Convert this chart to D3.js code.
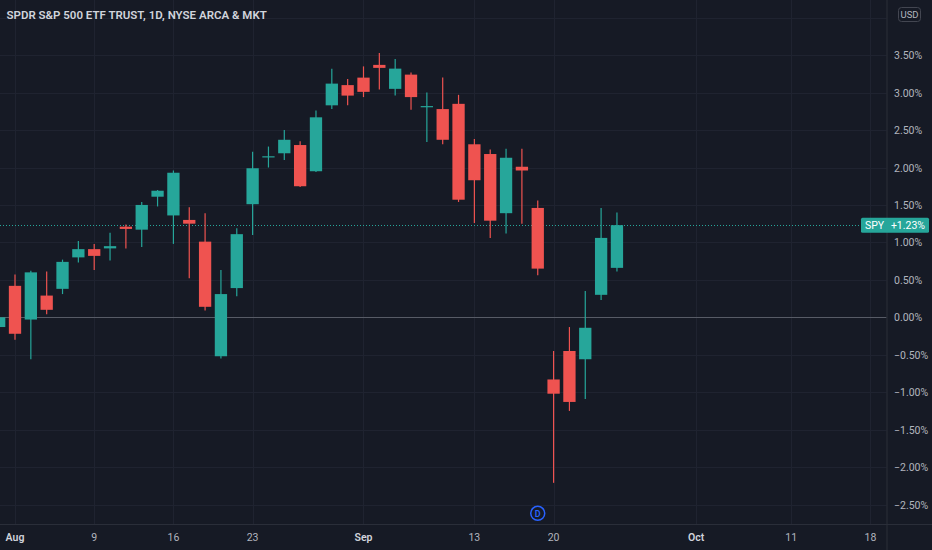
<!DOCTYPE html>
<html>
<head>
<meta charset="utf-8">
<script src="https://cdn.jsdelivr.net/npm/d3@7"></script>
<style>
  html, body { margin: 0; padding: 0; background: #161a25; }
  svg { display: block; font-family: Roboto, "Noto Sans", sans-serif; }
</style>
</head>
<body>
<svg class="chart" width="932" height="550"></svg>
<script>
"use strict";

// SPY daily bars, % change vs. first visible close
var dates = ['2021-07-30',
  '2021-08-02', '2021-08-03', '2021-08-04', '2021-08-05', '2021-08-06',
  '2021-08-09', '2021-08-10', '2021-08-11', '2021-08-12', '2021-08-13',
  '2021-08-16', '2021-08-17', '2021-08-18', '2021-08-19', '2021-08-20',
  '2021-08-23', '2021-08-24', '2021-08-25', '2021-08-26', '2021-08-27',
  '2021-08-30', '2021-08-31', '2021-09-01', '2021-09-02', '2021-09-03',
  '2021-09-07', '2021-09-08', '2021-09-09', '2021-09-10',
  '2021-09-13', '2021-09-14', '2021-09-15', '2021-09-16', '2021-09-17',
  '2021-09-20', '2021-09-21', '2021-09-22', '2021-09-23', '2021-09-24'];
var opens = [-0.13,
  0.42, -0.03, 0.29, 0.38, 0.80,
  0.91, 0.92, 1.21, 1.17, 1.61,
  1.36, 1.30, 1.01, -0.52, 0.39,
  1.51, 2.14, 2.19, 2.30, 1.95,
  2.83, 3.10, 3.20, 3.37, 3.05,
  3.24, 2.81, 2.78, 2.85,
  2.31, 2.18, 1.39, 2.01, 1.46,
  -0.83, -0.45, -0.56, 0.30, 0.66];
var highs = [0.02,
  0.57, 0.62, 0.61, 0.77, 1.02,
  0.98, 1.13, 1.24, 1.54, 1.70,
  1.96, 1.47, 1.39, 0.63, 1.19,
  2.21, 2.28, 2.50, 2.35, 2.76,
  3.32, 3.18, 3.35, 3.53, 3.45,
  3.27, 3.00, 3.20, 2.97,
  2.38, 2.24, 2.25, 2.25, 1.56,
  -0.45, -0.13, 0.35, 1.46, 1.40];
var lows = [-0.18,
  -0.30, -0.56, 0.04, 0.31, 0.73,
  0.63, 0.76, 0.92, 0.94, 1.48,
  0.98, 0.52, 0.09, -0.55, 0.28,
  1.10, 2.00, 2.10, 1.74, 1.94,
  2.78, 2.83, 2.94, 3.04, 2.96,
  2.77, 2.34, 2.31, 1.54,
  1.26, 1.06, 1.12, 1.25, 0.56,
  -2.21, -1.25, -1.09, 0.23, 0.61];
var closes = [0.00,
  -0.22, 0.60, 0.10, 0.74, 0.91,
  0.82, 0.95, 1.18, 1.50, 1.69,
  1.93, 1.25, 0.14, 0.31, 1.11,
  1.99, 2.15, 2.37, 1.75, 2.67,
  3.12, 2.96, 3.01, 3.33, 3.32,
  2.94, 2.82, 2.37, 1.57,
  1.83, 1.29, 2.13, 1.96, 0.65,
  -1.02, -1.13, -0.14, 1.06, 1.23];

// time axis: label and the bar slot it sits on (slots continue past the data)
var timeLabels = ['Aug', '9', '16', '23', 'Sep', '13', '20', 'Oct', '11', '18'];
var timeSlots = [1, 6, 11, 16, 23, 30, 35, 44, 50, 55];
var monthLabels = ['Aug', 'Sep', 'Oct'];

// 4.00% only gets a grid line, its label sits under the USD badge
var gridTicks = [4.0, 3.5, 3.0, 2.5, 2.0, 1.5, 1.0, 0.5, 0.0, -0.5, -1.0, -1.5, -2.0, -2.5];
var priceTicks = [3.5, 3.0, 2.5, 2.0, 1.5, 1.0, 0.5, 0.0, -0.5, -1.0, -1.5, -2.0, -2.5];
var dividendDates = ['2021-09-17'];

var title = 'SPDR S&P 500 ETF TRUST, 1D, NYSE ARCA & MKT';
var symbol = 'SPY';

var W = 932, H = 550;
var plotRight = 886.5, timeAxisY = 524.5;
var UP = '#26a69a', DOWN = '#ef5350', BG = '#161a25';

var bars = dates.map(function (d, i) {
  return {'date': d, 'i': i, 'o': opens[i], 'h': highs[i], 'l': lows[i], 'c': closes[i]};
});

var x = d3.scaleLinear().domain([0, 55]).range([-0.84, 870.4]);
var y = d3.scaleLinear().domain([0, 3.5]).range([317.3, 55.15]);
var pct = d3.format('.2f');

var svg = d3.select('.chart');
svg.append('rect').attr('width', W).attr('height', H).attr('fill', BG);

// grid
var grid = svg.append('g').attr('stroke', '#1f2330').attr('stroke-width', 1);
grid.selectAll('.hg').data(gridTicks).enter().append('line')
  .attr('x1', 0).attr('x2', plotRight)
  .attr('y1', function (d) { return Math.round(y(d)) + 0.5; })
  .attr('y2', function (d) { return Math.round(y(d)) + 0.5; });
grid.selectAll('.vg').data(timeSlots).enter().append('line')
  .attr('y1', 0).attr('y2', timeAxisY)
  .attr('x1', function (d) { return Math.round(x(d)) + 0.5; })
  .attr('x2', function (d) { return Math.round(x(d)) + 0.5; });

// zero baseline
svg.append('line')
  .attr('x1', 0).attr('x2', plotRight)
  .attr('y1', Math.round(y(0)) + 0.5).attr('y2', Math.round(y(0)) + 0.5)
  .attr('stroke', '#575b66').attr('stroke-width', 1);

// last price line
var last = bars[bars.length - 1];
svg.append('line')
  .attr('x1', 0).attr('x2', 861)
  .attr('y1', Math.round(y(last.c)) + 0.5).attr('y2', Math.round(y(last.c)) + 0.5)
  .attr('stroke', UP).attr('stroke-width', 1).attr('stroke-dasharray', '1,2');

// candles
var bodyW = 12.3;
var candles = svg.append('g');
var color = function (d) { return d.c >= d.o ? UP : DOWN; };
candles.selectAll('.wick').data(bars).enter().append('line')
  .attr('x1', function (d) { return x(d.i); })
  .attr('x2', function (d) { return x(d.i); })
  .attr('y1', function (d) { return y(d.h); })
  .attr('y2', function (d) { return y(d.l); })
  .attr('stroke', color).attr('stroke-width', 1.2);
candles.selectAll('.body').data(bars).enter().append('rect')
  .attr('x', function (d) { return x(d.i) - bodyW / 2; })
  .attr('width', bodyW)
  .attr('y', function (d) { return y(Math.max(d.o, d.c)); })
  .attr('height', function (d) { return Math.max(1.2, Math.abs(y(d.o) - y(d.c))); })
  .attr('fill', color);

// dividend marker
var divs = svg.selectAll('.div').data(dividendDates).enter().append('g')
  .attr('transform', function (d) { return 'translate(' + x(dates.indexOf(d)) + ',513.3)'; });
divs.append('circle').attr('r', 7).attr('fill', BG)
  .attr('stroke', '#2962ff').attr('stroke-width', 1.5);
divs.append('text').attr('text-anchor', 'middle').attr('dy', '3.2')
  .attr('font-size', 9).attr('font-weight', 600).attr('fill', '#2962ff').text('D');

// right scale
svg.append('rect').attr('x', plotRight + 0.5).attr('y', 0)
  .attr('width', W - plotRight).attr('height', H).attr('fill', BG);
svg.append('line').attr('x1', plotRight + 0.5).attr('x2', plotRight + 0.5)
  .attr('y1', 0).attr('y2', H).attr('stroke', '#2a2e39');
svg.append('line').attr('x1', 0).attr('x2', W)
  .attr('y1', timeAxisY).attr('y2', timeAxisY).attr('stroke', '#2a2e39');

svg.selectAll('.ptick').data(priceTicks).enter().append('text')
  .attr('x', 894).attr('y', function (d) { return y(d) + 4; })
  .attr('font-size', 10.5).attr('fill', '#b2b5be')
  .text(function (d) { return pct(d) + '%'; });

// USD badge
svg.append('rect').attr('x', 898.5).attr('y', 7.5).attr('width', 22).attr('height', 14)
  .attr('rx', 3).attr('fill', BG).attr('stroke', '#434651');
svg.append('text').attr('x', 909.5).attr('y', 18).attr('text-anchor', 'middle')
  .attr('font-size', 9.5).attr('fill', '#b2b5be').text('USD');

// last value badge
var ly = y(last.c);
svg.append('rect').attr('x', 861).attr('y', ly - 7.5).attr('width', 68).attr('height', 15)
  .attr('rx', 1.5).attr('fill', UP);
svg.append('text').attr('x', 865).attr('y', ly + 4).attr('font-size', 10.5)
  .attr('fill', '#ffffff').text(symbol);
svg.append('text').attr('x', 925).attr('y', ly + 4).attr('text-anchor', 'end')
  .attr('font-size', 10.5).attr('fill', '#ffffff').text('+' + pct(last.c) + '%');

// time axis labels
svg.selectAll('.ttick').data(timeLabels).enter().append('text')
  .attr('x', function (d, i) { return x(timeSlots[i]); })
  .attr('y', 541).attr('text-anchor', 'middle').attr('font-size', 10.5)
  .attr('font-weight', function (d) { return monthLabels.indexOf(d) >= 0 ? 600 : 400; })
  .attr('fill', function (d) { return monthLabels.indexOf(d) >= 0 ? '#d1d4dc' : '#b2b5be'; })
  .text(function (d) { return d; });

// title
svg.append('text').attr('x', 6.5).attr('y', 19).attr('font-size', 11.5)
  .attr('font-weight', 600).attr('fill', '#d1d4dc').text(title);
</script>
</body>
</html>
